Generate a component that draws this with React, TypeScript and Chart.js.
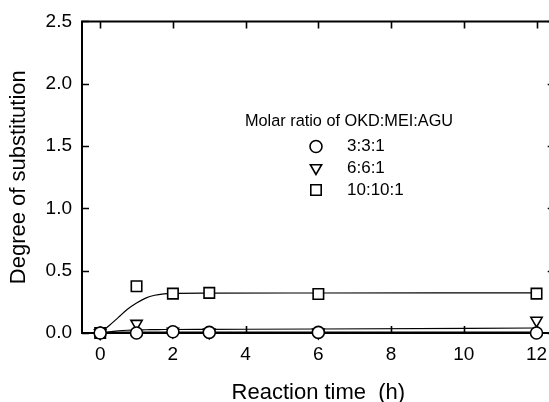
import React, { useEffect, useRef } from "react";
import { Chart, registerables } from "chart.js";

Chart.register(...registerables);

// ---- data ----
const TIME_H = [0, 1, 2, 3, 6, 12];
const DS_331 = [0, 0.0, 0.01, 0.005, 0.005, 0.0];
const DS_661 = [0, 0.075, 0.012, 0.006, 0.005, 0.1];
const DS_10101 = [0, 0.375, 0.316, 0.322, 0.313, 0.316];

const FIT_T = [0, 0.25, 0.5, 0.75, 1, 1.25, 1.5, 1.75, 2, 3, 6, 12];
const FIT_331 = [0, 0.002, 0.003, 0.004, 0.004, 0.004, 0.004, 0.004, 0.004, 0.004, 0.004, 0.004];
const FIT_661 = [0, 0.01, 0.017, 0.022, 0.025, 0.026, 0.027, 0.028, 0.028, 0.029, 0.032, 0.04];
const FIT_10101 = [0, 0.06, 0.125, 0.19, 0.24, 0.28, 0.303, 0.314, 0.318, 0.32, 0.321, 0.322];

const X_TICKS = [0, 2, 4, 6, 8, 10, 12];
const Y_TICKS = [0, 0.5, 1.0, 1.5, 2.0, 2.5];

const LEGEND_TITLE = "Molar ratio of OKD:MEI:AGU";
const LEGEND_LABELS = ["3:3:1", "6:6:1", "10:10:1"];
const X_TITLE = "Reaction time  (h)";
const Y_TITLE = "Degree of substitution";

const FONT = "'Liberation Sans', Arial, Helvetica, sans-serif";

const W = 566;
const H = 406;

function pts(xs: number[], ys: number[]) {
  return xs.map((x, i) => ({ x, y: ys[i] }));
}

const framePlugin = {
  id: "frame",
  beforeDatasetsDraw(chart: any) {
    const { ctx, chartArea } = chart;
    const { left, right, top, bottom } = chartArea;
    const xs = chart.scales.x;
    const ys = chart.scales.y;
    const TL = 7;
    ctx.save();
    ctx.strokeStyle = "#000";
    ctx.lineWidth = 2;
    ctx.beginPath();
    ctx.rect(left, top, right - left, bottom - top);
    ctx.stroke();
    ctx.lineWidth = 1.6;
    ctx.beginPath();
    X_TICKS.forEach((v) => {
      const px = Math.round(xs.getPixelForValue(v)) + 0.5;
      ctx.moveTo(px, bottom);
      ctx.lineTo(px, bottom - TL);
      ctx.moveTo(px, top);
      ctx.lineTo(px, top + TL);
    });
    Y_TICKS.forEach((v) => {
      const py = Math.round(ys.getPixelForValue(v)) + 0.5;
      ctx.moveTo(left, py);
      ctx.lineTo(left + TL, py);
      ctx.moveTo(right, py);
      ctx.lineTo(right - TL, py);
    });
    ctx.stroke();
    ctx.restore();
  },
  afterDraw(chart: any) {
    const { ctx } = chart;
    ctx.save();
    ctx.fillStyle = "#000";
    ctx.strokeStyle = "#000";
    ctx.font = `16.3px ${FONT}`;
    ctx.textBaseline = "alphabetic";
    ctx.textAlign = "left";
    ctx.fillText(LEGEND_TITLE, 245, 126);
    const mx = 316;
    const rows = [146.5, 168, 190];
    ctx.lineWidth = 1.6;
    // circle
    ctx.beginPath();
    ctx.arc(mx, rows[0], 6, 0, Math.PI * 2);
    ctx.stroke();
    // down triangle
    const r = 6.5;
    ctx.beginPath();
    ctx.moveTo(mx, rows[1] + r);
    ctx.lineTo(mx - r * 0.866, rows[1] - r / 2);
    ctx.lineTo(mx + r * 0.866, rows[1] - r / 2);
    ctx.closePath();
    ctx.stroke();
    // square
    ctx.beginPath();
    ctx.rect(mx - 5.2, rows[2] - 5.2, 10.4, 10.4);
    ctx.stroke();
    ctx.font = `17px ${FONT}`;
    ctx.textBaseline = "middle";
    LEGEND_LABELS.forEach((t, i) => ctx.fillText(t, 347, rows[i]));
    ctx.restore();
  },
};

export default function App() {
  const ref = useRef<HTMLCanvasElement | null>(null);
  useEffect(() => {
    if (!ref.current) return;
    const markerCommon = {
      showLine: false,
      borderColor: "#000",
      backgroundColor: "#fff",
      borderWidth: 1.6,
      clip: false as any,
    };
    const lineCommon = {
      showLine: true,
      pointRadius: 0,
      borderColor: "#000",
      borderWidth: 1.2,
      cubicInterpolationMode: "monotone" as const,
      clip: false as any,
    };
    const chart = new Chart(ref.current, {
      type: "scatter",
      data: {
        datasets: [
          { ...markerCommon, label: "3:3:1", data: pts(TIME_H, DS_331), pointStyle: "circle", pointRadius: 6 },
          { ...markerCommon, label: "6:6:1", data: pts(TIME_H, DS_661), pointStyle: "triangle", rotation: 180, pointRadius: 6.5 },
          { ...markerCommon, label: "10:10:1", data: pts(TIME_H, DS_10101), pointStyle: "rect", pointRadius: 7.4 },
          { ...lineCommon, label: "fit 3:3:1", data: pts(FIT_T, FIT_331), borderWidth: 2 },
          { ...lineCommon, label: "fit 6:6:1", data: pts(FIT_T, FIT_661) },
          { ...lineCommon, label: "fit 10:10:1", data: pts(FIT_T, FIT_10101) },
        ],
      },
      plugins: [framePlugin],
      options: {
        animation: false,
        responsive: false,
        events: [],
        layout: { padding: { top: 20, right: W - 554.7, left: 0, bottom: 0 } },
        plugins: { legend: { display: false }, tooltip: { enabled: false } },
        scales: {
          x: {
            type: "linear",
            min: -0.5,
            max: 12.5,
            afterBuildTicks: (s: any) => {
              s.ticks = X_TICKS.map((v) => ({ value: v }));
            },
            afterFit: (s: any) => {
              s.height = H - 333;
            },
            grid: { display: false, drawTicks: false },
            border: { display: false },
            ticks: {
              padding: 10,
              color: "#000",
              font: { family: FONT, size: 19 },
              maxRotation: 0,
              callback: (v: any) => String(v),
            },
            title: {
              display: true,
              text: X_TITLE,
              color: "#000",
              font: { family: FONT, size: 22 },
              padding: { top: 0, bottom: 0 },
            },
          },
          y: {
            type: "linear",
            min: 0,
            max: 2.5,
            afterBuildTicks: (s: any) => {
              s.ticks = Y_TICKS.map((v) => ({ value: v }));
            },
            afterFit: (s: any) => {
              s.width = 82;
            },
            grid: { display: false, drawTicks: false },
            border: { display: false },
            ticks: {
              padding: 10,
              color: "#000",
              font: { family: FONT, size: 19 },
              callback: (v: any) => Number(v).toFixed(1),
            },
            title: {
              display: true,
              text: Y_TITLE,
              color: "#000",
              font: { family: FONT, size: 22 },
              padding: { top: 6, bottom: 0 },
            },
          },
        },
      },
    });
    return () => chart.destroy();
  }, []);
  return (
    <div
      style={{
        position: "fixed",
        left: 0,
        top: 0,
        width: 549,
        height: 402,
        overflow: "hidden",
        background: "#fff",
      }}
    >
      <canvas ref={ref} width={W} height={H} style={{ width: W, height: H, display: "block" }} />
    </div>
  );
}
